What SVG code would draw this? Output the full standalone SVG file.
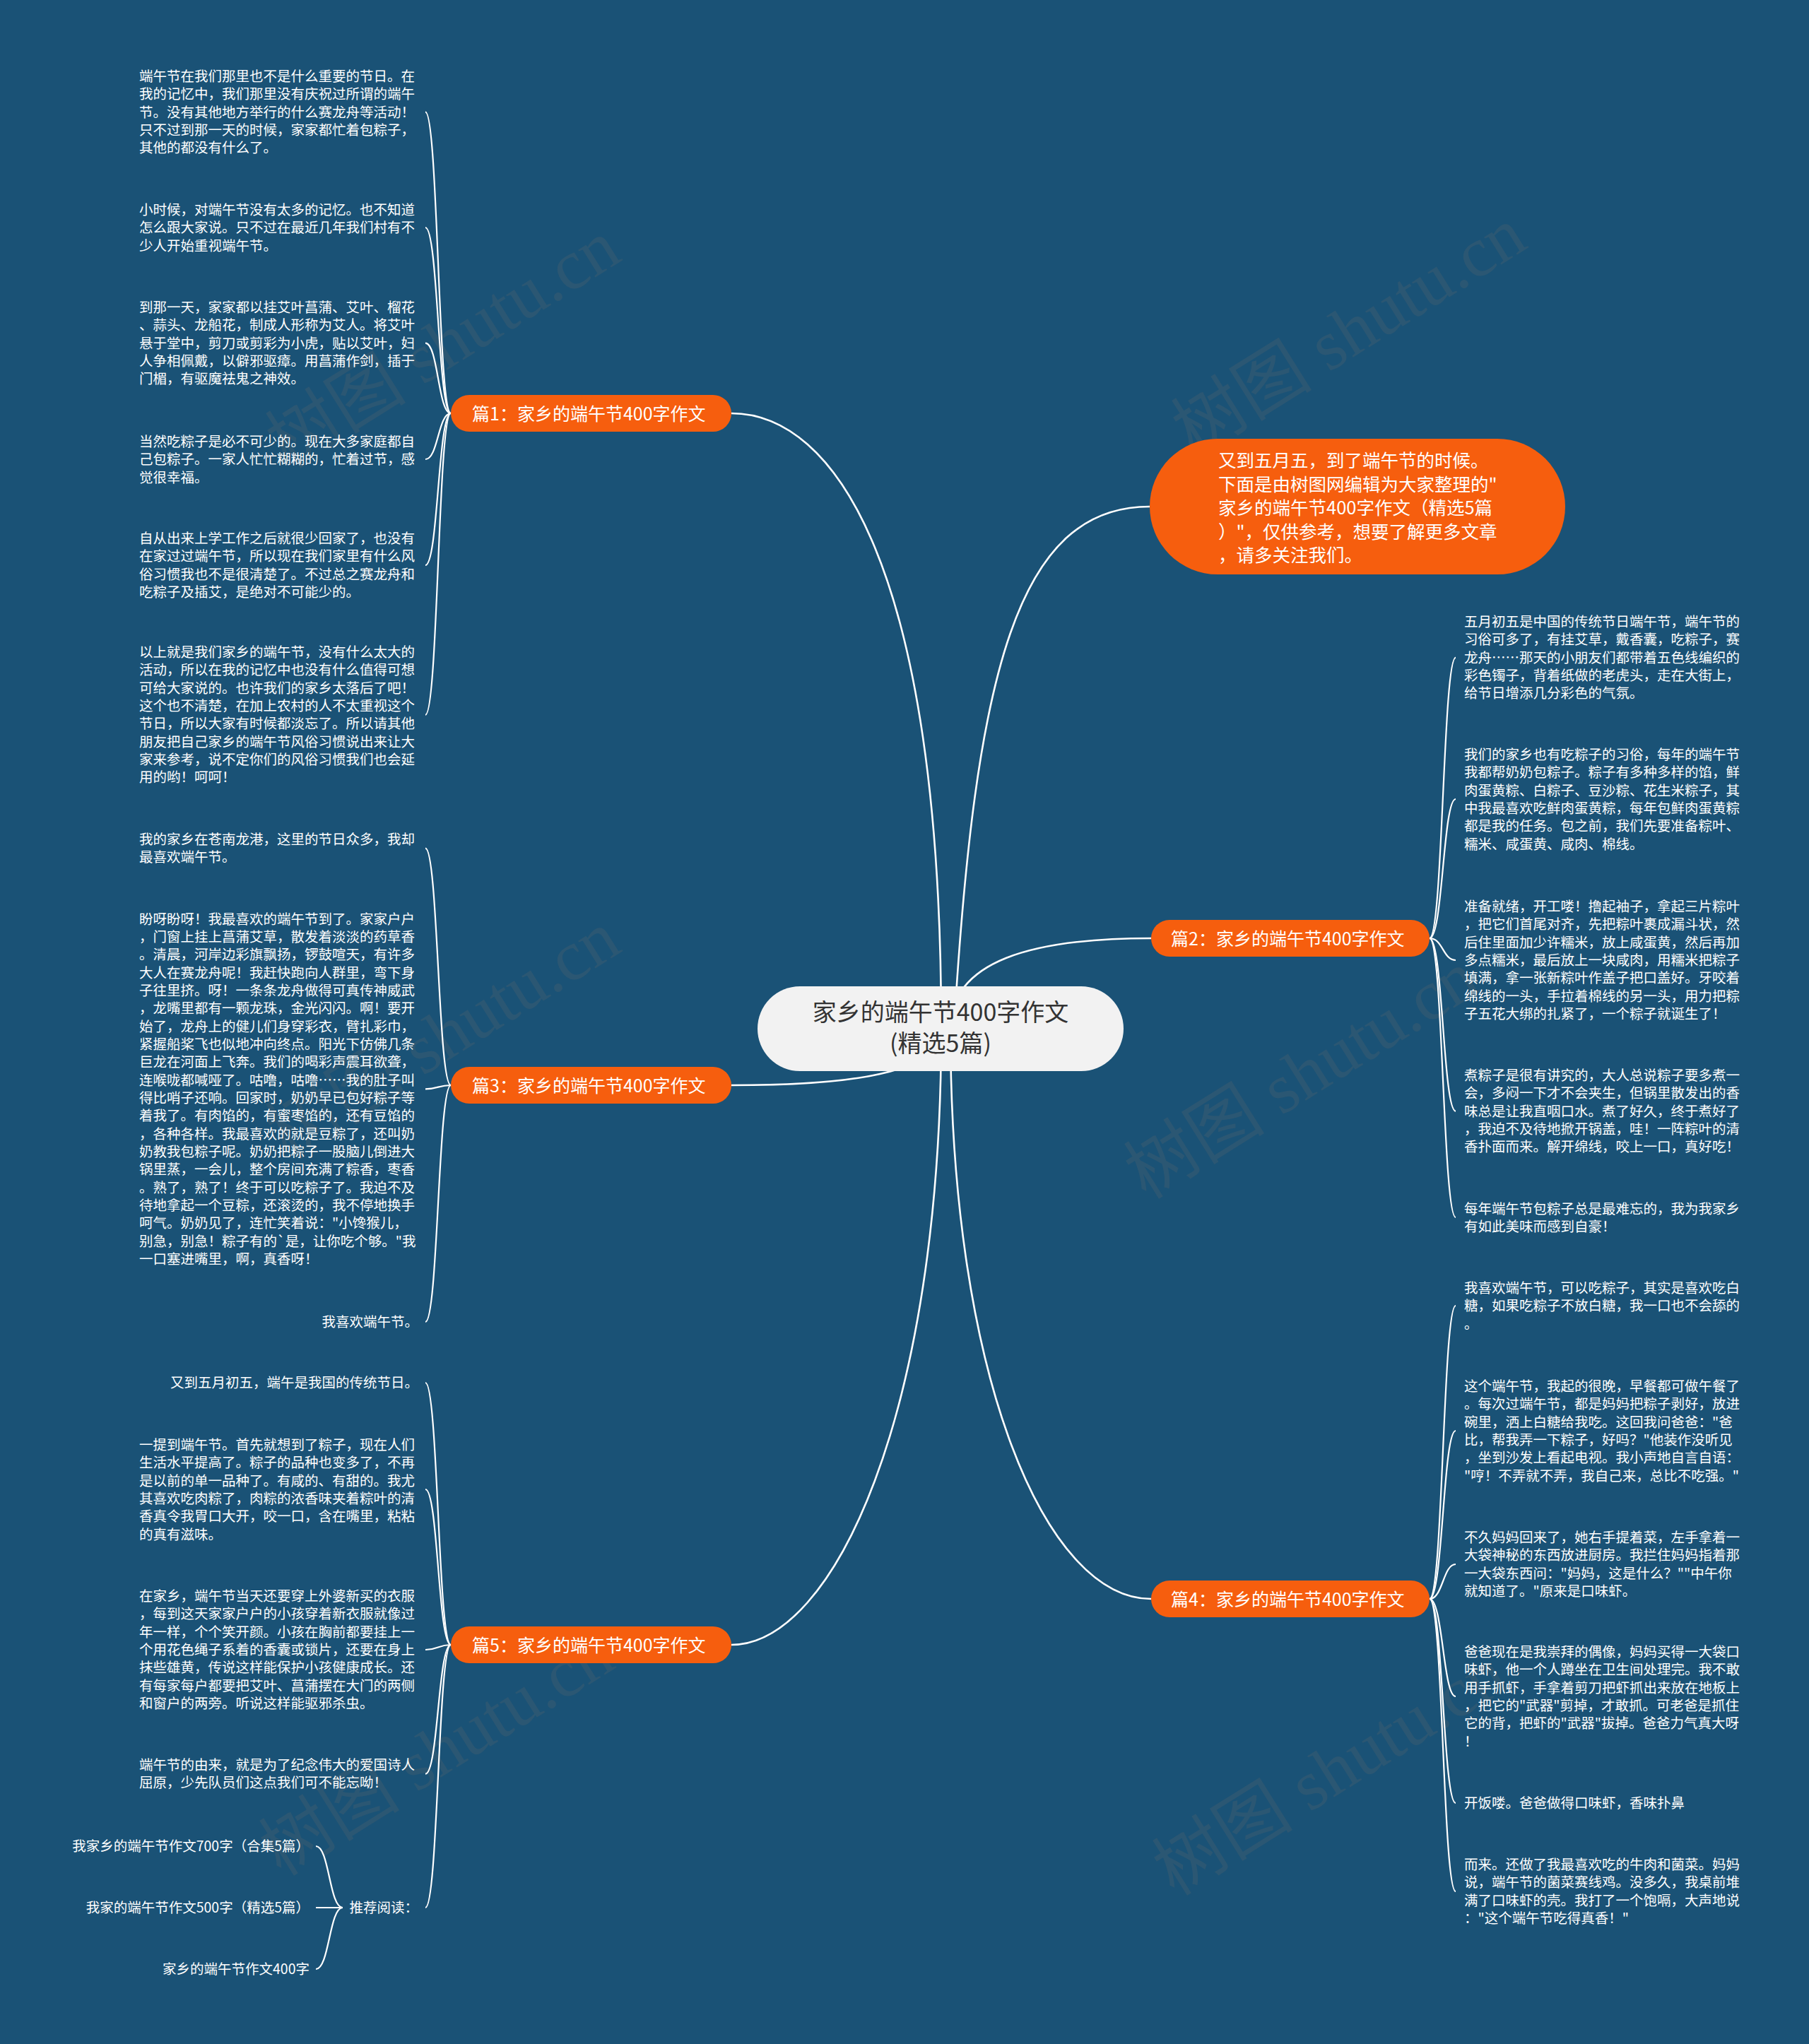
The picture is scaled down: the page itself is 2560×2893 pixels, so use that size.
<svg xmlns="http://www.w3.org/2000/svg" width="2560" height="2893" viewBox="0 0 2560 2893">
<style>
.t{font-family:'Noto Sans CJK SC','Noto Sans',sans-serif;font-size:19.5px;fill:#ffffff}
.lbl{font-family:'Noto Sans CJK SC','Noto Sans',sans-serif;font-size:25px;fill:#ffffff}
.pill{fill:#f65e0e}
.main{fill:none;stroke:#ffffff;stroke-width:2.6}
.sub{fill:none;stroke:#ffffff;stroke-width:2.2}
.wm{font-family:'Liberation Serif','Noto Sans CJK SC',serif;font-size:100px;fill:#6a6a6a;opacity:0.22}
</style>
<rect x="0" y="0" width="2560" height="2893" fill="#1a5276"/>

<g id="watermarks">
<text class="wm" transform="translate(645,516) rotate(-32)" text-anchor="middle">树图 shutu.cn</text>
<text class="wm" transform="translate(1927,498) rotate(-32)" text-anchor="middle">树图 shutu.cn</text>
<text class="wm" transform="translate(645,1494) rotate(-32)" text-anchor="middle">树图 shutu.cn</text>
<text class="wm" transform="translate(1860,1550) rotate(-32)" text-anchor="middle">树图 shutu.cn</text>
<text class="wm" transform="translate(636,2508) rotate(-32)" text-anchor="middle">树图 shutu.cn</text>
<text class="wm" transform="translate(1900,2536) rotate(-32)" text-anchor="middle">树图 shutu.cn</text>
</g>

<g id="connectors">
<path class="main" d="M1332,1456 C1332,800 1180,585 1035,585"/>
<path class="main" d="M1332,1456 C1332,1520 1200,1536 1035,1536"/>
<path class="main" d="M1332,1456 C1332,2000 1180,2328 1035,2328"/>
<path class="main" d="M1350,1456 C1380,950 1440,717 1627,717"/>
<path class="main" d="M1345,1456 C1345,1360 1460,1328 1629,1328"/>
<path class="main" d="M1345,1456 C1345,1950 1480,2263 1629,2263"/>

<path class="sub" d="M638,585 C620,585 620,158.7 602,158.7"/>
<path class="sub" d="M638,585 C620,585 620,322 602,322"/>
<path class="sub" d="M638,585 C620,585 620,485.7 602,485.7"/>
<path class="sub" d="M638,585 C620,585 620,650 602,650"/>
<path class="sub" d="M638,585 C620,585 620,800 602,800"/>
<path class="sub" d="M638,585 C620,585 620,1011.7 602,1011.7"/>

<path class="sub" d="M638,1536 C620,1536 620,1200.7 602,1200.7"/>
<path class="sub" d="M638,1536 C620,1536 620,1541.3 602,1541.3"/>
<path class="sub" d="M638,1536 C620,1536 620,1871 602,1871"/>

<path class="sub" d="M638,2328 C620,2328 620,1957 602,1957"/>
<path class="sub" d="M638,2328 C620,2328 620,2108 602,2108"/>
<path class="sub" d="M638,2328 C620,2328 620,2335 602,2335"/>
<path class="sub" d="M638,2328 C620,2328 620,2510.7 602,2510.7"/>
<path class="sub" d="M638,2328 C620,2328 620,2700 602,2700"/>

<path class="sub" d="M485,2700 C466,2700 466,2613 447,2613"/>
<path class="sub" d="M485,2700 C466,2700 466,2700 447,2700"/>
<path class="sub" d="M485,2700 C466,2700 466,2787 447,2787"/>

<path class="sub" d="M2023,1328 C2042,1328 2042,930.7 2060,930.7"/>
<path class="sub" d="M2023,1328 C2042,1328 2042,1131 2060,1131"/>
<path class="sub" d="M2023,1328 C2042,1328 2042,1359 2060,1359"/>
<path class="sub" d="M2023,1328 C2042,1328 2042,1572.7 2060,1572.7"/>
<path class="sub" d="M2023,1328 C2042,1328 2042,1723 2060,1723"/>

<path class="sub" d="M2023,2263 C2042,2263 2042,1848 2060,1848"/>
<path class="sub" d="M2023,2263 C2042,2263 2042,2025 2060,2025"/>
<path class="sub" d="M2023,2263 C2042,2263 2042,2214 2060,2214"/>
<path class="sub" d="M2023,2263 C2042,2263 2042,2401 2060,2401"/>
<path class="sub" d="M2023,2263 C2042,2263 2042,2552 2060,2552"/>
<path class="sub" d="M2023,2263 C2042,2263 2042,2677 2060,2677"/>
</g>

<g id="center">
<rect x="1072" y="1396" width="518" height="120" rx="60" fill="#f2f2f2"/>
<text font-family="'Noto Sans CJK SC','Noto Sans',sans-serif" font-size="34" fill="#333333" text-anchor="middle"><tspan x="1331" y="1445">家乡的端午节400字作文</tspan><tspan x="1331" y="1489">(精选5篇)</tspan></text>
</g>

<g id="intro">
<rect x="1627" y="621" width="588" height="192" rx="96" class="pill"/>
<text font-family="'Noto Sans CJK SC','Noto Sans',sans-serif" font-size="25.5" fill="#ffffff"><tspan x="1724" y="661">又到五月五，到了端午节的时候。</tspan><tspan x="1724" y="694.5">下面是由树图网编辑为大家整理的"</tspan><tspan x="1724" y="728">家乡的端午节400字作文（精选5篇</tspan><tspan x="1724" y="761.5">）"，仅供参考，想要了解更多文章</tspan><tspan x="1724" y="795">，请多关注我们。</tspan></text>
</g>

<g id="p1">
<rect x="638" y="559" width="397" height="52" rx="26" class="pill"/>
<text class="lbl" x="668" y="594.5">篇1：家乡的端午节400字作文</text>
</g>
<g id="p2">
<rect x="1629" y="1302" width="394" height="52" rx="26" class="pill"/>
<text class="lbl" x="1657" y="1337.5">篇2：家乡的端午节400字作文</text>
</g>
<g id="p3">
<rect x="638" y="1510" width="397" height="52" rx="26" class="pill"/>
<text class="lbl" x="668" y="1545.5">篇3：家乡的端午节400字作文</text>
</g>
<g id="p4">
<rect x="1629" y="2237" width="394" height="52" rx="26" class="pill"/>
<text class="lbl" x="1657" y="2272.5">篇4：家乡的端午节400字作文</text>
</g>
<g id="p5">
<rect x="638" y="2302" width="397" height="52" rx="26" class="pill"/>
<text class="lbl" x="668" y="2337.5">篇5：家乡的端午节400字作文</text>
</g>

<g id="p1-texts">
<text class="t" x="197" y="115"><tspan x="197">端午节在我们那里也不是什么重要的节日。在</tspan><tspan x="197" dy="25.35">我的记忆中，我们那里没有庆祝过所谓的端午</tspan><tspan x="197" dy="25.35">节。没有其他地方举行的什么赛龙舟等活动！</tspan><tspan x="197" dy="25.35">只不过到那一天的时候，家家都忙着包粽子，</tspan><tspan x="197" dy="25.35">其他的都没有什么了。</tspan></text>
<text class="t" x="197" y="304"><tspan x="197">小时候，对端午节没有太多的记忆。也不知道</tspan><tspan x="197" dy="25.35">怎么跟大家说。只不过在最近几年我们村有不</tspan><tspan x="197" dy="25.35">少人开始重视端午节。</tspan></text>
<text class="t" x="197" y="442"><tspan x="197">到那一天，家家都以挂艾叶菖蒲、艾叶、榴花</tspan><tspan x="197" dy="25.35">、蒜头、龙船花，制成人形称为艾人。将艾叶</tspan><tspan x="197" dy="25.35">悬于堂中，剪刀或剪彩为小虎，贴以艾叶，妇</tspan><tspan x="197" dy="25.35">人争相佩戴，以僻邪驱瘴。用菖蒲作剑，插于</tspan><tspan x="197" dy="25.35">门楣，有驱魔祛鬼之神效。</tspan></text>
<text class="t" x="197" y="632"><tspan x="197">当然吃粽子是必不可少的。现在大多家庭都自</tspan><tspan x="197" dy="25.35">己包粽子。一家人忙忙糊糊的，忙着过节，感</tspan><tspan x="197" dy="25.35">觉很幸福。</tspan></text>
<text class="t" x="197" y="769"><tspan x="197">自从出来上学工作之后就很少回家了，也没有</tspan><tspan x="197" dy="25.35">在家过过端午节，所以现在我们家里有什么风</tspan><tspan x="197" dy="25.35">俗习惯我也不是很清楚了。不过总之赛龙舟和</tspan><tspan x="197" dy="25.35">吃粽子及插艾，是绝对不可能少的。</tspan></text>
<text class="t" x="197" y="930"><tspan x="197">以上就是我们家乡的端午节，没有什么太大的</tspan><tspan x="197" dy="25.35">活动，所以在我的记忆中也没有什么值得可想</tspan><tspan x="197" dy="25.35">可给大家说的。也许我们的家乡太落后了吧！</tspan><tspan x="197" dy="25.35">这个也不清楚，在加上农村的人不太重视这个</tspan><tspan x="197" dy="25.35">节日，所以大家有时候都淡忘了。所以请其他</tspan><tspan x="197" dy="25.35">朋友把自己家乡的端午节风俗习惯说出来让大</tspan><tspan x="197" dy="25.35">家来参考，说不定你们的风俗习惯我们也会延</tspan><tspan x="197" dy="25.35">用的哟！呵呵！</tspan></text>
</g>

<g id="p3-texts">
<text class="t" x="197" y="1195"><tspan x="197">我的家乡在苍南龙港，这里的节日众多，我却</tspan><tspan x="197" dy="25.35">最喜欢端午节。</tspan></text>
<text class="t" x="197" y="1307.5"><tspan x="197">盼呀盼呀！我最喜欢的端午节到了。家家户户</tspan><tspan x="197" dy="25.35">，门窗上挂上菖蒲艾草，散发着淡淡的药草香</tspan><tspan x="197" dy="25.35">。清晨，河岸边彩旗飘扬，锣鼓喧天，有许多</tspan><tspan x="197" dy="25.35">大人在赛龙舟呢！我赶快跑向人群里，弯下身</tspan><tspan x="197" dy="25.35">子往里挤。呀！一条条龙舟做得可真传神威武</tspan><tspan x="197" dy="25.35">，龙嘴里都有一颗龙珠，金光闪闪。啊！要开</tspan><tspan x="197" dy="25.35">始了，龙舟上的健儿们身穿彩衣，臂扎彩巾，</tspan><tspan x="197" dy="25.35">紧握船桨飞也似地冲向终点。阳光下仿佛几条</tspan><tspan x="197" dy="25.35">巨龙在河面上飞奔。我们的喝彩声震耳欲聋，</tspan><tspan x="197" dy="25.35">连喉咙都喊哑了。咕噜，咕噜……我的肚子叫</tspan><tspan x="197" dy="25.35">得比哨子还响。回家时，奶奶早已包好粽子等</tspan><tspan x="197" dy="25.35">着我了。有肉馅的，有蜜枣馅的，还有豆馅的</tspan><tspan x="197" dy="25.35">，各种各样。我最喜欢的就是豆粽了，还叫奶</tspan><tspan x="197" dy="25.35">奶教我包粽子呢。奶奶把粽子一股脑儿倒进大</tspan><tspan x="197" dy="25.35">锅里蒸，一会儿，整个房间充满了粽香，枣香</tspan><tspan x="197" dy="25.35">。熟了，熟了！终于可以吃粽子了。我迫不及</tspan><tspan x="197" dy="25.35">待地拿起一个豆粽，还滚烫的，我不停地换手</tspan><tspan x="197" dy="25.35">呵气。奶奶见了，连忙笑着说："小馋猴儿，</tspan><tspan x="197" dy="25.35">别急，别急！粽子有的`是，让你吃个够。"我</tspan><tspan x="197" dy="25.35">一口塞进嘴里，啊，真香呀！</tspan></text>
<text class="t" x="592" y="1878" text-anchor="end">我喜欢端午节。</text>
</g>

<g id="p5-texts">
<text class="t" x="592" y="1964" text-anchor="end">又到五月初五，端午是我国的传统节日。</text>
<text class="t" x="197" y="2052"><tspan x="197">一提到端午节。首先就想到了粽子，现在人们</tspan><tspan x="197" dy="25.35">生活水平提高了。粽子的品种也变多了，不再</tspan><tspan x="197" dy="25.35">是以前的单一品种了。有咸的、有甜的。我尤</tspan><tspan x="197" dy="25.35">其喜欢吃肉粽了，肉粽的浓香味夹着粽叶的清</tspan><tspan x="197" dy="25.35">香真令我胃口大开，咬一口，含在嘴里，粘粘</tspan><tspan x="197" dy="25.35">的真有滋味。</tspan></text>
<text class="t" x="197" y="2266"><tspan x="197">在家乡，端午节当天还要穿上外婆新买的衣服</tspan><tspan x="197" dy="25.35">，每到这天家家户户的小孩穿着新衣服就像过</tspan><tspan x="197" dy="25.35">年一样，个个笑开颜。小孩在胸前都要挂上一</tspan><tspan x="197" dy="25.35">个用花色绳子系着的香囊或锁片，还要在身上</tspan><tspan x="197" dy="25.35">抹些雄黄，传说这样能保护小孩健康成长。还</tspan><tspan x="197" dy="25.35">有每家每户都要把艾叶、菖蒲摆在大门的两侧</tspan><tspan x="197" dy="25.35">和窗户的两旁。听说这样能驱邪杀虫。</tspan></text>
<text class="t" x="197" y="2505"><tspan x="197">端午节的由来，就是为了纪念伟大的爱国诗人</tspan><tspan x="197" dy="25.35">屈原，少先队员们这点我们可不能忘呦！</tspan></text>
<text class="t" x="592" y="2707" text-anchor="end">推荐阅读：</text>
</g>

<g id="recommend">
<text class="t" x="438" y="2620" text-anchor="end">我家乡的端午节作文700字（合集5篇）</text>
<text class="t" x="438" y="2707" text-anchor="end">我家的端午节作文500字（精选5篇）</text>
<text class="t" x="438" y="2794" text-anchor="end">家乡的端午节作文400字</text>
</g>

<g id="p2-texts">
<text class="t" x="2072" y="887"><tspan x="2072">五月初五是中国的传统节日端午节，端午节的</tspan><tspan x="2072" dy="25.35">习俗可多了，有挂艾草，戴香囊，吃粽子，赛</tspan><tspan x="2072" dy="25.35">龙舟……那天的小朋友们都带着五色线编织的</tspan><tspan x="2072" dy="25.35">彩色镯子，背着纸做的老虎头，走在大街上，</tspan><tspan x="2072" dy="25.35">给节日增添几分彩色的气氛。</tspan></text>
<text class="t" x="2072" y="1075"><tspan x="2072">我们的家乡也有吃粽子的习俗，每年的端午节</tspan><tspan x="2072" dy="25.35">我都帮奶奶包粽子。粽子有多种多样的馅，鲜</tspan><tspan x="2072" dy="25.35">肉蛋黄粽、白粽子、豆沙粽、花生米粽子，其</tspan><tspan x="2072" dy="25.35">中我最喜欢吃鲜肉蛋黄粽，每年包鲜肉蛋黄粽</tspan><tspan x="2072" dy="25.35">都是我的任务。包之前，我们先要准备粽叶、</tspan><tspan x="2072" dy="25.35">糯米、咸蛋黄、咸肉、棉线。</tspan></text>
<text class="t" x="2072" y="1290"><tspan x="2072">准备就绪，开工喽！撸起袖子，拿起三片粽叶</tspan><tspan x="2072" dy="25.35">，把它们首尾对齐，先把粽叶裹成漏斗状，然</tspan><tspan x="2072" dy="25.35">后住里面加少许糯米，放上咸蛋黄，然后再加</tspan><tspan x="2072" dy="25.35">多点糯米，最后放上一块咸肉，用糯米把粽子</tspan><tspan x="2072" dy="25.35">填满，拿一张新粽叶作盖子把口盖好。牙咬着</tspan><tspan x="2072" dy="25.35">绵线的一头，手拉着棉线的另一头，用力把粽</tspan><tspan x="2072" dy="25.35">子五花大绑的扎紧了，一个粽子就诞生了！</tspan></text>
<text class="t" x="2072" y="1529"><tspan x="2072">煮粽子是很有讲究的，大人总说粽子要多煮一</tspan><tspan x="2072" dy="25.35">会，多闷一下才不会夹生，但锅里散发出的香</tspan><tspan x="2072" dy="25.35">味总是让我直咽口水。煮了好久，终于煮好了</tspan><tspan x="2072" dy="25.35">，我迫不及待地掀开锅盖，哇！一阵粽叶的清</tspan><tspan x="2072" dy="25.35">香扑面而来。解开绵线，咬上一口，真好吃！</tspan></text>
<text class="t" x="2072" y="1717.5"><tspan x="2072">每年端午节包粽子总是最难忘的，我为我家乡</tspan><tspan x="2072" dy="25.35">有如此美味而感到自豪！</tspan></text>
</g>

<g id="p4-texts">
<text class="t" x="2072" y="1830"><tspan x="2072">我喜欢端午节，可以吃粽子，其实是喜欢吃白</tspan><tspan x="2072" dy="25.35">糖，如果吃粽子不放白糖，我一口也不会舔的</tspan><tspan x="2072" dy="25.35">。</tspan></text>
<text class="t" x="2072" y="1969"><tspan x="2072">这个端午节，我起的很晚，早餐都可做午餐了</tspan><tspan x="2072" dy="25.35">。每次过端午节，都是妈妈把粽子剥好，放进</tspan><tspan x="2072" dy="25.35">碗里，洒上白糖给我吃。这回我问爸爸："爸</tspan><tspan x="2072" dy="25.35">比，帮我弄一下粽子，好吗？"他装作没听见</tspan><tspan x="2072" dy="25.35">，坐到沙发上看起电视。我小声地自言自语：</tspan><tspan x="2072" dy="25.35">"哼！不弄就不弄，我自己来，总比不吃强。"</tspan></text>
<text class="t" x="2072" y="2183"><tspan x="2072">不久妈妈回来了，她右手提着菜，左手拿着一</tspan><tspan x="2072" dy="25.35">大袋神秘的东西放进厨房。我拦住妈妈指着那</tspan><tspan x="2072" dy="25.35">一大袋东西问："妈妈，这是什么？""中午你</tspan><tspan x="2072" dy="25.35">就知道了。"原来是口味虾。</tspan></text>
<text class="t" x="2072" y="2345"><tspan x="2072">爸爸现在是我崇拜的偶像，妈妈买得一大袋口</tspan><tspan x="2072" dy="25.35">味虾，他一个人蹲坐在卫生间处理完。我不敢</tspan><tspan x="2072" dy="25.35">用手抓虾，手拿着剪刀把虾抓出来放在地板上</tspan><tspan x="2072" dy="25.35">，把它的"武器"剪掉，才敢抓。可老爸是抓住</tspan><tspan x="2072" dy="25.35">它的背，把虾的"武器"拔掉。爸爸力气真大呀</tspan><tspan x="2072" dy="25.35">！</tspan></text>
<text class="t" x="2072" y="2559">开饭喽。爸爸做得口味虾，香味扑鼻</text>
<text class="t" x="2072" y="2646"><tspan x="2072">而来。还做了我最喜欢吃的牛肉和菌菜。妈妈</tspan><tspan x="2072" dy="25.35">说，端午节的菌菜赛线鸡。没多久，我桌前堆</tspan><tspan x="2072" dy="25.35">满了口味虾的壳。我打了一个饱嗝，大声地说</tspan><tspan x="2072" dy="25.35">："这个端午节吃得真香！"</tspan></text>
</g>
</svg>
